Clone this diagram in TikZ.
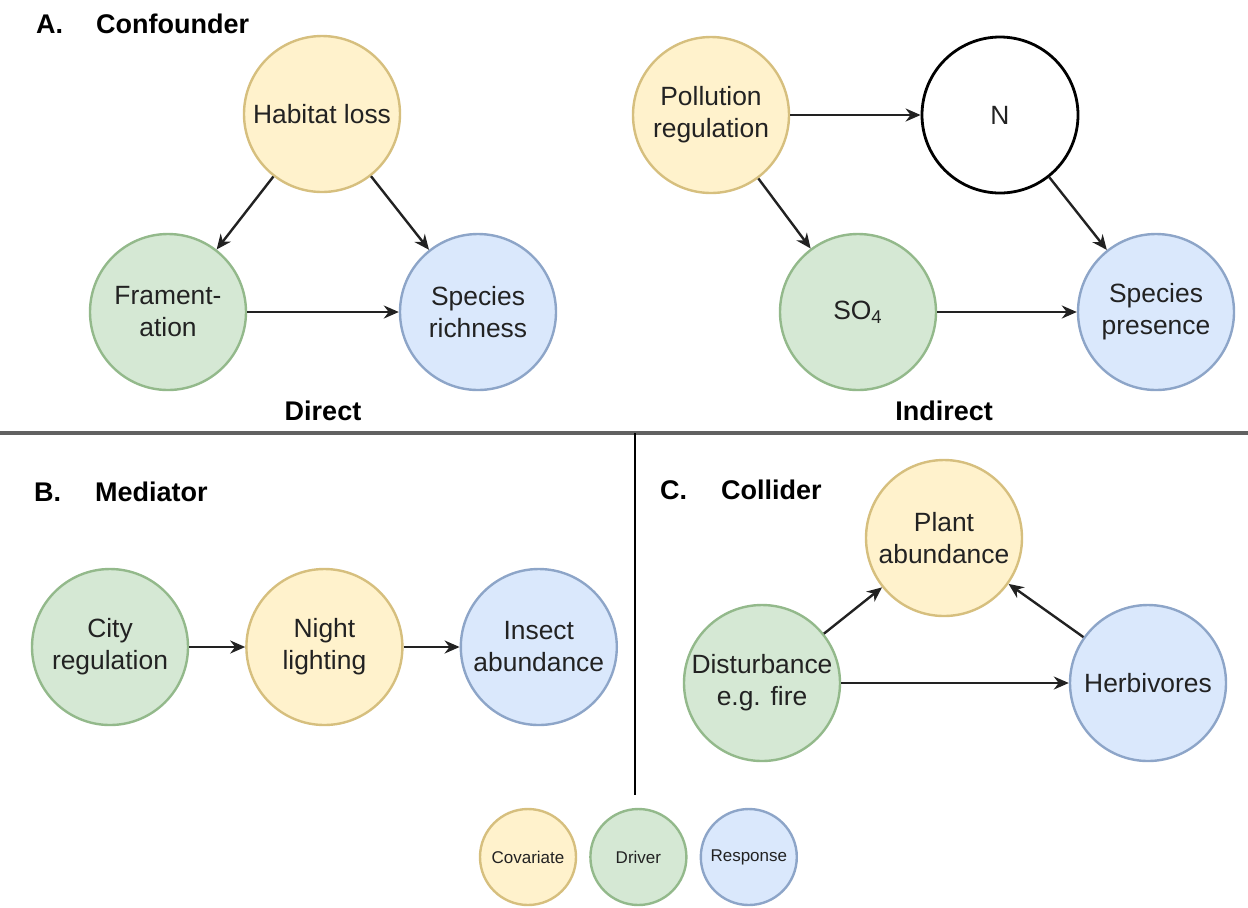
\documentclass[tikz,border=0pt]{standalone}
\usepackage{fontspec}
\setmainfont{Liberation Sans}
\usepackage{tikz}
\usetikzlibrary{shapes,arrows.meta,calc,positioning}
\definecolor{covfill}{HTML}{FFF2CC}
\definecolor{covline}{HTML}{D6BF7E}
\definecolor{drvfill}{HTML}{D5E8D4}
\definecolor{drvline}{HTML}{93B98B}
\definecolor{rspfill}{HTML}{DAE8FC}
\definecolor{rspline}{HTML}{8DA5C8}
\definecolor{ink}{HTML}{222222}
\tikzset{
    -{Stealth[length=7.5pt,width=6.5pt]},auto,semithick,
    var/.style ={circle, draw, inner sep=0pt, minimum size=78pt, align=center,
                 text=ink, font=\fontsize{13.2}{16}\selectfont},
    cov/.style ={var, fill=covfill, draw=covline},
    drv/.style ={var, fill=drvfill, draw=drvline},
    rsp/.style ={var, fill=rspfill, draw=rspline},
    key/.style ={minimum size=48pt, font=\fontsize{8.5}{10}\selectfont},
    title/.style = {anchor=west, inner sep=0pt, font=\fontsize{13.5}{16}\selectfont\bfseries},
    sub/.style = {inner sep=0pt, font=\fontsize{13.5}{16}\selectfont\bfseries}
}

\begin{document}
\begin{tikzpicture}[x=0.5pt,y=-0.5pt,line width=1.2pt]
    \useasboundingbox (0,0) rectangle (1248,907);

    % A. Confounder
    \node[title] (ta) at (35,24) {A.\hspace{16.5pt}Confounder};
    \node[cov] (1) at (322,114) {Habitat loss};
    \node[drv] (2) at (168,312) {Frament-\\ation};
    \node[rsp] (3) at (478,312) {Species\\richness};
    \node[sub] (d) at (323,411) {Direct};

    \path[draw=ink] (1) edge (2);
    \path[draw=ink] (1) edge (3);
    \path[draw=ink] (2) edge (3);

    \node[cov] (4) at (711,115) {Pollution\\regulation};
    \node[var,line width=1.4pt] (5) at (1000,115) {N};
    \node[drv] (6) at (858,312) {SO\textsubscript{4}};
    \node[rsp] (7) at (1156,312) {Species\\presence};
    \node[sub] (i) at (944,411) {Indirect};

    \path[draw=ink] (4) edge (5);
    \path[draw=ink] (4) edge (6);
    \path[draw=ink] (5) edge (7);
    \path[draw=ink] (6) edge (7);

    % panel borders
    \draw[-,line width=1.6pt,black!62] (0,433) -- (1248,433);
    \draw[-,line width=1pt] (635,433) -- (635,795);

    % B. Mediator
    \node[title] (tb) at (33,492) {B.\hspace{17pt}Mediator};
    \node[drv] (8) at (110,647) {City\\regulation};
    \node[cov] (9) [right=28pt of 8] {Night\\lighting};
    \node[rsp] (10) [right=28pt of 9] {Insect\\abundance};

    \path[draw=ink] (8) edge (9);
    \path[draw=ink] (9) edge (10);

    % C. Collider
    \node[title] (tc) at (659,490) {C.\hspace{17pt}Collider};
    \node[cov] (11) at (944,538) {Plant\\abundance};
    \node[drv] (12) at (762,683) {Disturbance\\e.g. fire};
    \node[rsp] (13) at (1148,683) {Herbivores};

    \path[draw=ink] (12) edge (11);
    \path[draw=ink] (13) edge (11);
    \path[draw=ink] (12) edge (13);

    % legend
    \node[cov,key] (14) at (528,857) {Covariate};
    \node[drv,key] (15) [right=6pt of 14] {Driver};
    \node[rsp,key] (16) [right=6pt of 15] {Response};

\end{tikzpicture}
\end{document}
